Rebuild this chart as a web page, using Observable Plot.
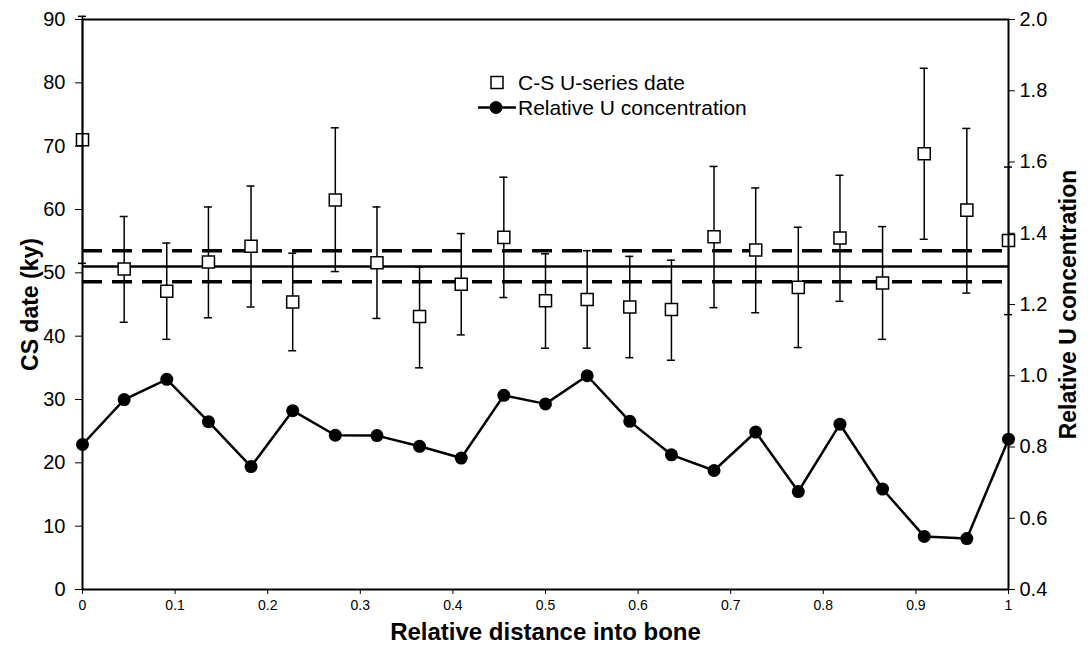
<!DOCTYPE html>
<html><head><meta charset="utf-8">
<script src="https://cdn.jsdelivr.net/npm/d3@7"></script>
<script src="https://cdn.jsdelivr.net/npm/@observablehq/plot@0.6"></script>
<style>
body{margin:0;background:#fff;font-family:"Liberation Sans",Arial,sans-serif;}
#wrap{position:relative;width:1088px;height:653px;}
#legend{position:absolute;left:476px;top:70px;font-size:21px;color:#000;line-height:25px;}
.row{display:flex;align-items:center;height:25px;}
.row svg{margin-right:2px;}
</style></head><body>
<div id="wrap">
  <div id="chart"></div>
  <div id="legend">
    <div class="row"><svg width="40" height="25"><rect x="15" y="6.5" width="12" height="12" fill="#fff" stroke="#000" stroke-width="1.5"/></svg><span>C-S U-series date</span></div>
    <div class="row"><svg width="40" height="25"><line x1="2" y1="12.5" x2="40" y2="12.5" stroke="#000" stroke-width="2.5"/><circle cx="20" cy="12.5" r="6.5" fill="#000"/></svg><span>Relative U concentration</span></div>
  </div>
</div>
<script>
// Relative distance into bone (sample positions)
const distance = [0, 0.045, 0.091, 0.136, 0.182, 0.227, 0.273, 0.318, 0.364, 0.409, 0.455, 0.5, 0.545, 0.591, 0.636, 0.682, 0.727, 0.773, 0.818, 0.864, 0.909, 0.955, 1];
// C-S U-series date (ky) with error bar limits
const csDate = [71.0, 50.6, 47.1, 51.7, 54.2, 45.4, 61.5, 51.6, 43.1, 48.2, 55.6, 45.6, 45.8, 44.6, 44.2, 55.7, 53.6, 47.7, 55.5, 48.4, 68.8, 59.9, 55.1];
const csHigh = [90.5, 58.9, 54.7, 60.4, 63.7, 53.1, 72.9, 60.4, 50.9, 56.2, 65.1, 53.0, 53.5, 52.6, 52.0, 66.8, 63.4, 57.2, 65.4, 57.3, 82.3, 72.8, 66.7];
const csLow  = [51.5, 42.2, 39.5, 42.9, 44.6, 37.7, 50.2, 42.8, 35.0, 40.2, 46.1, 38.1, 38.1, 36.6, 36.2, 44.5, 43.7, 38.2, 45.5, 39.5, 55.3, 46.8, 43.4];
// Relative U concentration (right axis)
const relU = [0.807, 0.933, 0.99, 0.871, 0.745, 0.902, 0.833, 0.832, 0.802, 0.769, 0.945, 0.921, 1.0, 0.872, 0.778, 0.734, 0.842, 0.675, 0.864, 0.682, 0.549, 0.543, 0.822];
// Mean date and its uncertainty band
const meanDate = [51.0];
const bandDates = [53.5, 48.6];
// Tick values and labels
const xTicks = [0, 0.1, 0.2, 0.3, 0.4, 0.5, 0.6, 0.7, 0.8, 0.9, 1];
const xTickLabels = ["0", "0.1", "0.2", "0.3", "0.4", "0.5", "0.6", "0.7", "0.8", "0.9", "1"];
const yTicks = [0, 10, 20, 30, 40, 50, 60, 70, 80, 90];
const y2Ticks = [0.4, 0.6, 0.8, 1.0, 1.2, 1.4, 1.6, 1.8, 2.0];
const y2TickLabels = ["0.4", "0.6", "0.8", "1.0", "1.2", "1.4", "1.6", "1.8", "2.0"];
// Axis titles
const xTitle = ["Relative distance into bone"];
const yTitle = ["CS date (ky)"];
const y2Title = ["Relative U concentration"];

const yDomain = [0, 90];
const y2Domain = [0.4, 2.0];
const toLeft = v => (v - y2Domain[0]) / (y2Domain[1] - y2Domain[0]) * (yDomain[1] - yDomain[0]) + yDomain[0];

const data = distance.map((x, i) => ({x, date: csDate[i], high: csHigh[i], low: csLow[i], u: toLeft(relU[i])}));

const chart = Plot.plot({
  width: 1088,
  height: 653,
  marginLeft: 82,
  marginRight: 80,
  marginTop: 19,
  marginBottom: 64,
  style: {fontFamily: "Liberation Sans, Arial, sans-serif", fontSize: "20px", color: "black", background: "white", overflow: "visible"},
  x: {domain: [0, 1]},
  y: {domain: yDomain},
  marks: [
    Plot.ruleY(meanDate, {stroke: "black", strokeWidth: 2.5}),
    Plot.ruleY(bandDates, {stroke: "black", strokeWidth: 3.5, strokeDasharray: "20,10"}),
    Plot.ruleX(data, {x: "x", y1: "low", y2: "high", stroke: "black", strokeWidth: 1.5}),
    Plot.ruleY(data, {y: "high", x1: "x", x2: "x", insetLeft: -4, insetRight: -4, stroke: "black", strokeWidth: 1.5}),
    Plot.ruleY(data, {y: "low", x1: "x", x2: "x", insetLeft: -4, insetRight: -4, stroke: "black", strokeWidth: 1.5}),
    Plot.dot(data, {x: "x", y: "date", symbol: "square", r: 6.8, fill: "white", stroke: "black", strokeWidth: 1.5}),
    Plot.line(data, {x: "x", y: "u", stroke: "black", strokeWidth: 2.5}),
    Plot.dot(data, {x: "x", y: "u", r: 6.5, fill: "black", stroke: "none"}),
    Plot.axisX({ticks: xTicks, tickFormat: (d, i) => xTickLabels[i], tickSize: 5, tickPadding: 6, fontSize: 14, label: null}),
    Plot.axisY({anchor: "left", ticks: yTicks, tickSize: 7, tickPadding: 10, label: null}),
    Plot.axisY({anchor: "right", ticks: y2Ticks.map(toLeft), tickFormat: (d, i) => y2TickLabels[i], tickSize: 6, tickPadding: 5, label: null}),
    Plot.text(xTitle, {frameAnchor: "bottom", dy: 50, fontSize: 24, fontWeight: "bold"}),
    Plot.text(yTitle, {frameAnchor: "left", dx: -52, rotate: -90, textAnchor: "middle", fontSize: 23, fontWeight: "bold"}),
    Plot.text(y2Title, {frameAnchor: "right", dx: 60, rotate: -90, textAnchor: "middle", fontSize: 23, fontWeight: "bold"}),
    Plot.frame({stroke: "black", strokeWidth: 2})
  ]
});
document.getElementById("chart").appendChild(chart);
</script>
</body></html>
